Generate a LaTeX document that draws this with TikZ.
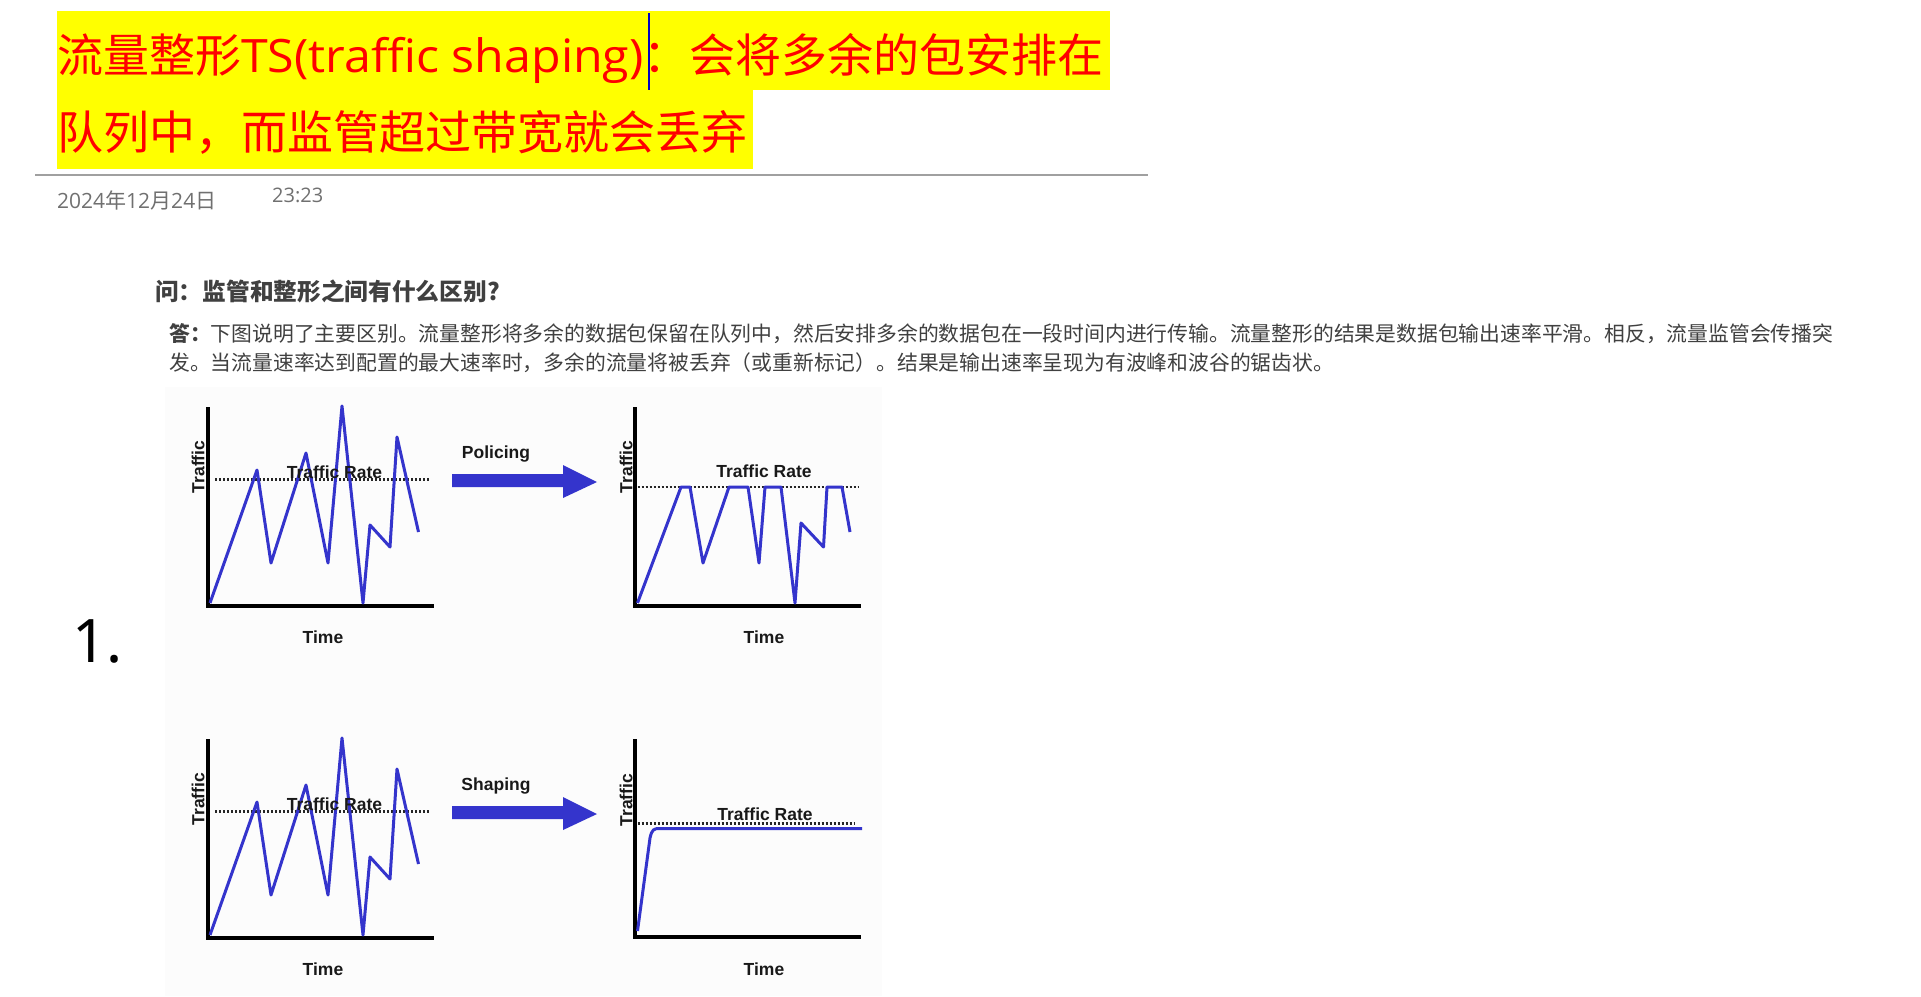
\documentclass[tikz,border=0pt]{standalone}
\usepackage{fontspec}
\setmainfont{Noto Sans CJK SC}
\newfontfamily\latinfont{Open Sans}
\newfontfamily\widelatin[FakeStretch=1.05]{Open Sans}
\newfontfamily\chartfont{Liberation Sans}
\newfontfamily\numfont{Noto Sans}

\definecolor{titlered}{RGB}{255,0,0}
\definecolor{markyellow}{RGB}{255,255,0}
\definecolor{caretblue}{RGB}{0,0,200}
\definecolor{rulegray}{RGB}{160,160,160}
\definecolor{dategray}{RGB}{112,112,112}
\definecolor{bodygray}{RGB}{64,64,64}
\definecolor{traceblue}{RGB}{52,52,204}
\definecolor{panegray}{RGB}{252,252,252}

\begin{document}
\begin{tikzpicture}[x=1pt, y=-1pt,
    titletext/.style={anchor=base west, inner sep=0pt, text=titlered, font=\fontsize{46}{46}\selectfont},
    stamp/.style={anchor=base west, inner sep=0pt, text=dategray, font=\fontsize{21}{21}\selectfont},
    bodytext/.style={anchor=base west, inner sep=0pt, text=bodygray, font=\fontsize{20.8}{21}\selectfont},
    axis/.style={line width=4pt, black},
    ratedots/.style={line width=2.2pt, dash pattern=on 2pt off 2pt, black!85},
    trace/.style={line width=3pt, traceblue, line join=round},
    chartlabel/.style={inner sep=0pt, anchor=base, text=black!90, font=\chartfont\bfseries\fontsize{17.5}{18}\selectfont},
    yname/.style={chartlabel, anchor=center, rotate=90}
]
    % Page (keeps the margins)
    \useasboundingbox[fill=white] (0,0) rectangle (1921,996);

    % Title, highlighted in yellow
    \fill[markyellow] (57,11) rectangle (1110,90);
    \fill[markyellow] (57,90) rectangle (753,169);
    \node[titletext] (title1) at (57,72.5) {流量整形{\widelatin TS(traffic shaping)}：会将多余的包安排在};
    \node[titletext] (title2) at (57,149.5) {队列中，而监管超过带宽就会丢弃};
    % text cursor
    \draw[caretblue, line width=1.5pt] (649,13) -- (649,90);

    % Rule and time stamp
    \draw[rulegray, line width=1.5pt] (35,175) -- (1148,175);
    \node[stamp] (date) at (57,208) {{\latinfont 2024}年{\latinfont 12}月{\latinfont 24}日};
    \node[stamp, font=\fontsize{20}{20}\selectfont] (clock) at (272,202) {\latinfont 23:23};

    % Question and answer
    \node[bodytext, font=\bfseries\fontsize{23.7}{24}\selectfont] (question) at (155,300) {问：监管和整形之间有什么区别?};
    \node[bodytext] (answer1) at (169,341) {\textbf{答：}下图说明了主要区别。流量整形将多余的数据包保留在队列中，然后安排多余的数据包在一段时间内进行传输。流量整形的结果是数据包输出速率平滑。相反，流量监管会传播突};
    \node[bodytext] (answer2) at (169,370) {发。当流量速率达到配置的最大速率时，多余的流量将被丢弃（或重新标记）。结果是输出速率呈现为有波峰和波谷的锯齿状。};

    % List number
    \node[anchor=base west, inner sep=0pt, font=\numfont\fontsize{60}{60}\selectfont] (num) at (72,662) {1.};

    % Picture background
    \fill[panegray] (165,387) rectangle (882,996);

    % Left charts (same bursty traffic) with block arrows
    \foreach \dy/\act in {0/Policing, 332/Shaping} {
        \begin{scope}[shift={(0,\dy)}]
            \draw[axis] (208,407) -- (208,606) -- (434,606);
            \draw[ratedots] (215,479.5) -- (428.5,479.5);
            \draw[trace] (210,603) -- (257,470) -- (271,563) -- (306,453) -- (328,563) -- (342,406)
                -- (363,603) -- (370,525) -- (390,547) -- (397,437) -- (418.5,532);
            \node[yname] (traffic\dy) at (198,467) {Traffic};
            \node[chartlabel] (rate\dy) at (334.5,478) {Traffic Rate};
            \node[chartlabel] (time\dy) at (323,643) {Time};
            % block arrow
            \fill[traceblue] (452,474) -- (563,474) -- (563,465) -- (597,482) -- (563,498) -- (563,487) -- (452,487) -- cycle;
            \node[chartlabel] (\act) at (496,458) {\act};
        \end{scope}
    }

    % Right chart: policed traffic (cut at the rate)
    \draw[axis] (635,407) -- (635,606) -- (861,606);
    \draw[ratedots] (637.5,487) -- (858,487);
    \draw[trace] (637.5,603) -- (681,487) -- (690,487) -- (703,563) -- (729,487) -- (748,487) -- (759,563)
        -- (765,487) -- (781,487) -- (795,603) -- (801,523) -- (823.5,547) -- (827,487) -- (842,487) -- (850,532);
    \node[yname] (trafficP) at (626,467) {Traffic};
    \node[chartlabel] (rateP) at (764,477) {Traffic Rate};
    \node[chartlabel] (timeP) at (764,643) {Time};

    % Right chart: shaped traffic (flat)
    \draw[axis] (634.5,739) -- (634.5,937) -- (861,937);
    \draw[ratedots] (637.5,823.5) -- (855,823.5);
    \draw[trace] (637.5,931) -- (650,838) .. controls (652,829) and (654,828.5) .. (660,828.5) -- (862,828.5);
    \node[yname] (trafficS) at (626,800) {Traffic};
    \node[chartlabel] (rateS) at (765,820) {Traffic Rate};
    \node[chartlabel] (timeS) at (764,975) {Time};
\end{tikzpicture}
\end{document}
